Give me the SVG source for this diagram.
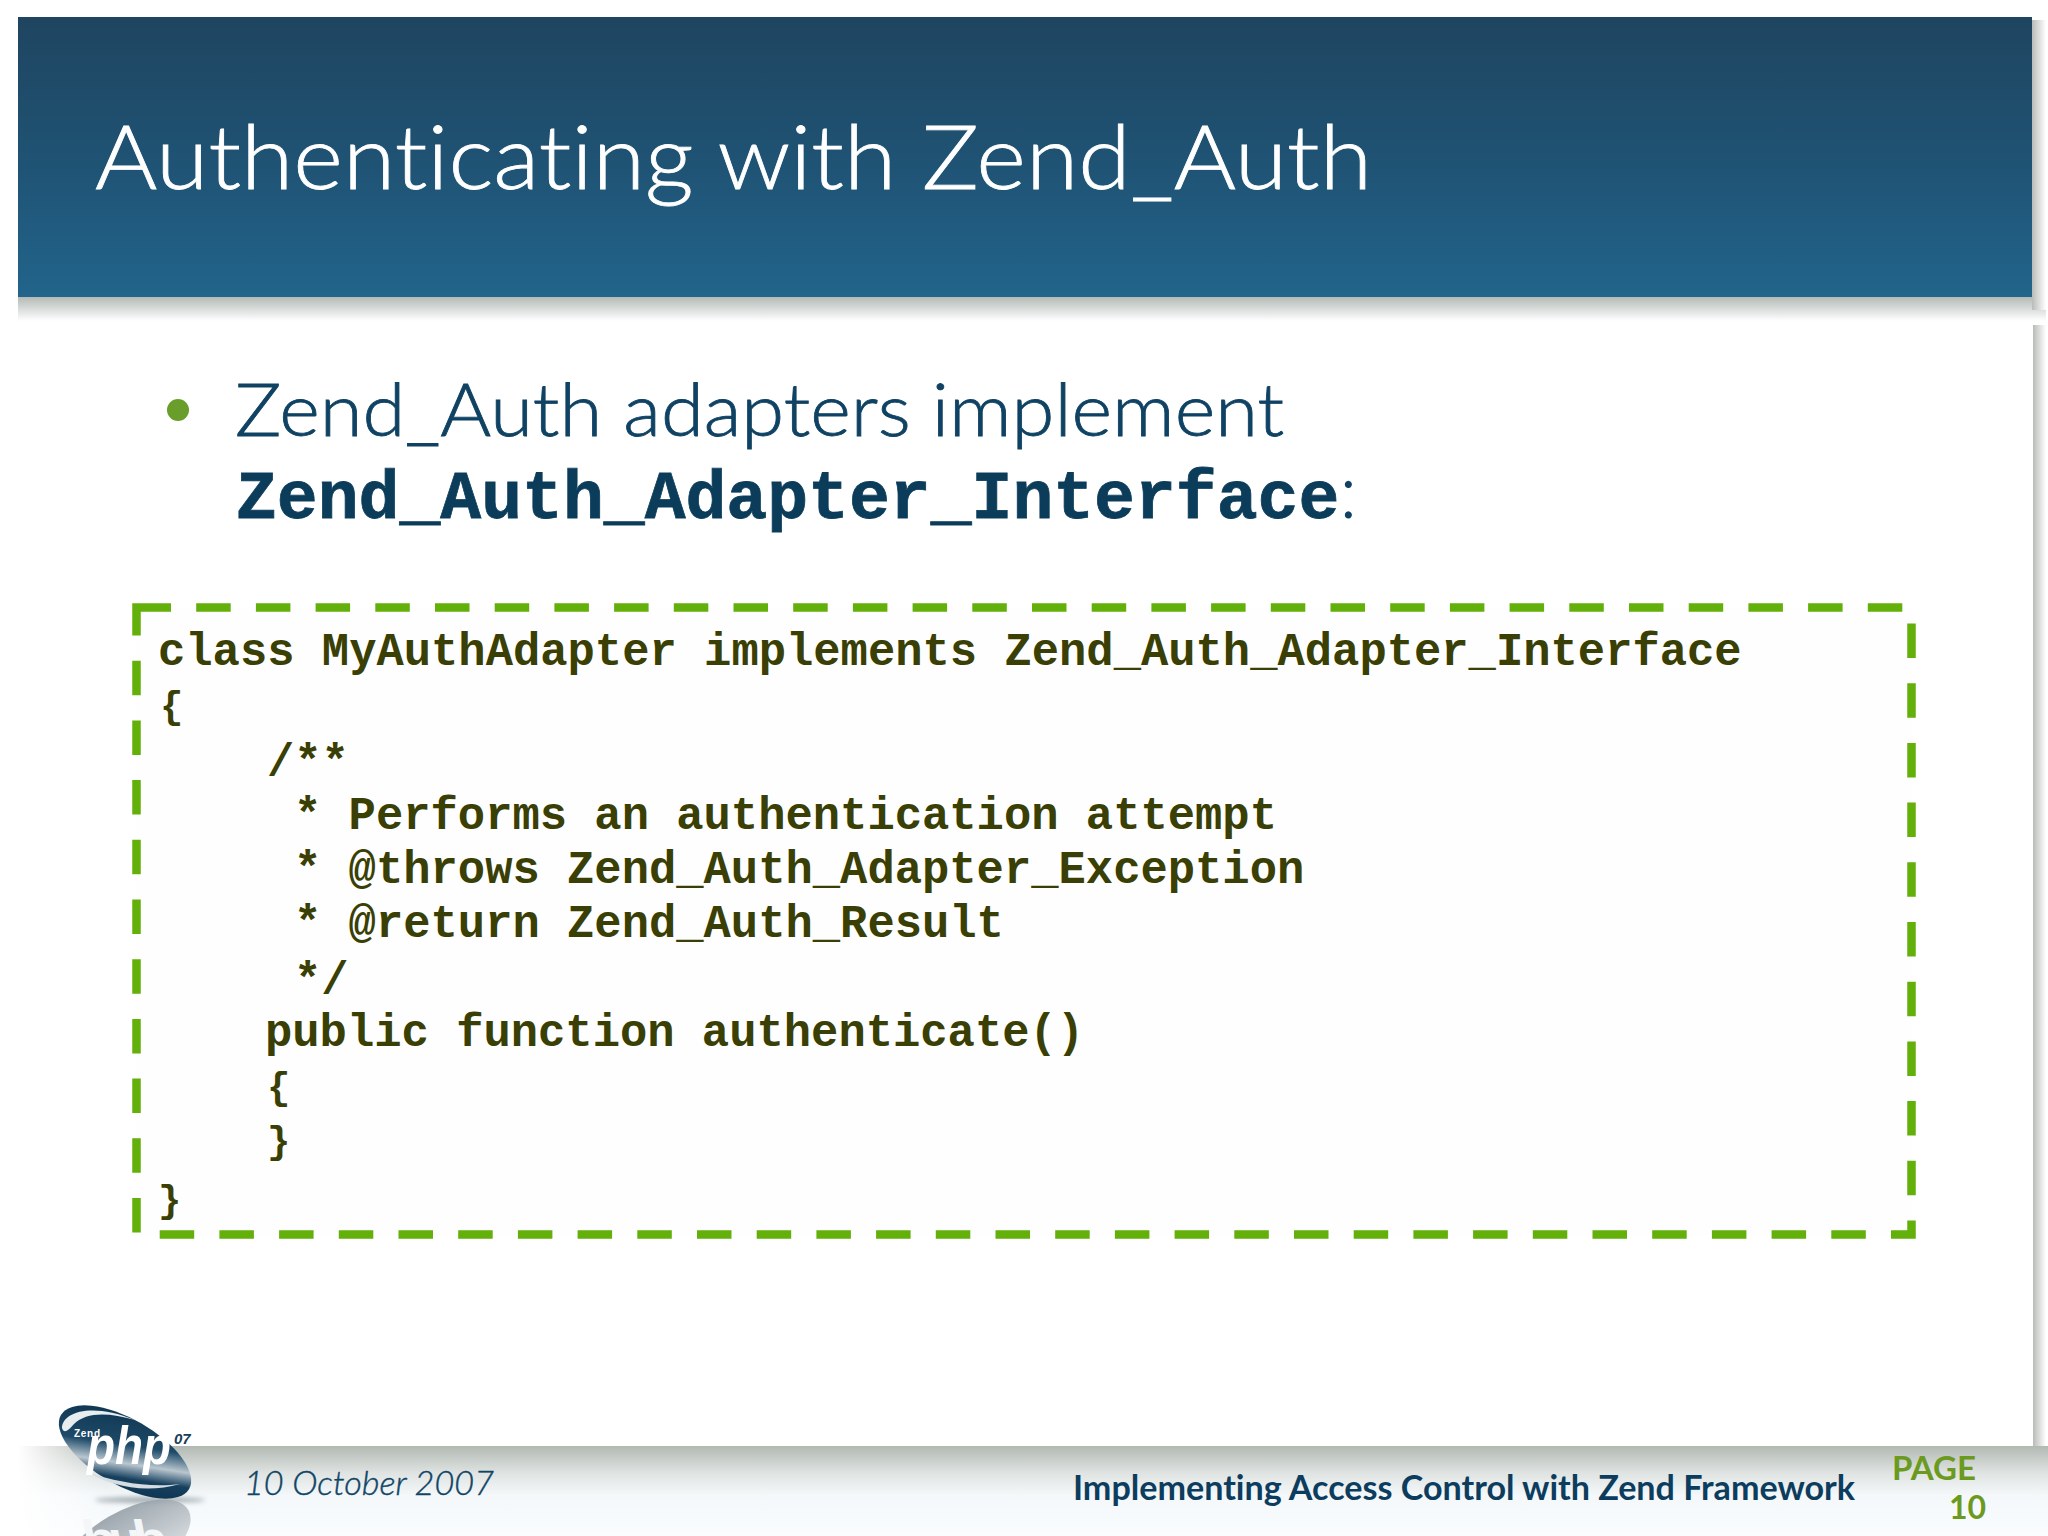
<svg xmlns="http://www.w3.org/2000/svg" width="2048" height="1536" viewBox="0 0 2048 1536">
<style>
text{font-variant-ligatures:none}
.code{font-family:"Liberation Mono","Courier New",monospace;font-weight:700;font-size:45.5px;fill:#3a3f05;white-space:pre}
.brace{font-size:39px}
.sans{font-family:Lato,"Open Sans","Liberation Sans",sans-serif}
</style>
<defs>
<linearGradient id="banner" x1="0" y1="0" x2="0" y2="1"><stop offset="0" stop-color="#1f4560"/><stop offset="0.5" stop-color="#1f5273"/><stop offset="1" stop-color="#22648b"/></linearGradient>
<linearGradient id="shadowDown" x1="0" y1="0" x2="0" y2="1"><stop offset="0" stop-color="#b4bab6"/><stop offset="1" stop-color="#ffffff"/></linearGradient>
<linearGradient id="shadowRight" x1="0" y1="0" x2="1" y2="0"><stop offset="0" stop-color="#b8bcb8"/><stop offset="1" stop-color="#ffffff"/></linearGradient>
<linearGradient id="foot" x1="0" y1="0" x2="0" y2="1"><stop offset="0" stop-color="#b2b8b2"/><stop offset="0.3" stop-color="#dfe4e2"/><stop offset="0.55" stop-color="#f4f8fa"/><stop offset="1" stop-color="#fafcfe"/></linearGradient>
<linearGradient id="footFade" x1="0" y1="0" x2="1" y2="0"><stop offset="0" stop-color="#fff"/><stop offset="1" stop-color="#fff" stop-opacity="0"/></linearGradient>
<linearGradient id="logo" x1="0.1" y1="0.1" x2="0.85" y2="0.95"><stop offset="0" stop-color="#0f3550"/><stop offset="0.42" stop-color="#1d4a68"/><stop offset="0.62" stop-color="#b9c6cf"/><stop offset="0.78" stop-color="#16405e"/><stop offset="1" stop-color="#0d3350"/></linearGradient>
<linearGradient id="refl" x1="0" y1="0" x2="0" y2="1"><stop offset="0" stop-color="#8f9aa2"/><stop offset="1" stop-color="#d8dde0"/></linearGradient>
<clipPath id="page"><rect x="0" y="1499" width="400" height="37"/></clipPath>
<filter id="soft" x="-20%" y="-200%" width="140%" height="500%"><feGaussianBlur stdDeviation="2.500"/></filter>
</defs>

<rect width="2048" height="1536" fill="#ffffff"/>

<g id="banner-group">
<rect x="18" y="297" width="2028" height="24" fill="url(#shadowDown)"/>
<rect x="2032" y="20" width="14" height="290" fill="url(#shadowRight)"/>
<rect x="18" y="17" width="2014" height="280" fill="url(#banner)"/>
<text class="sans" x="95" y="189" font-size="88" font-weight="300" fill="#ffffff" stroke="#ffffff" stroke-width="0.800" textLength="1277" lengthAdjust="spacingAndGlyphs">Authenticating with Zend_Auth</text>
</g>

<g id="slide-body">
<rect x="2033" y="325" width="13" height="1125" fill="url(#shadowRight)"/>
<circle cx="178" cy="410" r="11" fill="#6a9e2a"/>
<text class="sans" x="235" y="436" font-size="72" font-weight="300" fill="#0f4263" stroke="#0f4263" stroke-width="0.800" textLength="1049" lengthAdjust="spacingAndGlyphs">Zend_Auth adapters implement</text>
<text x="236" y="518" font-family="'Liberation Mono','Courier New',monospace" font-weight="700" font-size="68.100" fill="#0b3c5a" stroke="#0b3c5a" stroke-width="0.800">Zend_Auth_Adapter_Interface<tspan class="sans" font-weight="300" font-size="76" fill="#0f4263" stroke="none">:</tspan></text>
</g>

<g id="code-box">
<rect x="136.500" y="607.500" width="1775" height="627" fill="#fefefe" stroke="#63b00a" stroke-width="8.500" stroke-dasharray="34.500 25.200"/>
<text class="code" x="158" y="665">class MyAuthAdapter implements Zend_Auth_Adapter_Interface</text>
<text class="code brace" x="160" y="718">{</text>
<text class="code" x="267" y="776">/**</text>
<text class="code" x="294" y="829">* Performs an authentication attempt</text>
<text class="code" x="294" y="883">* @throws Zend_Auth_Adapter_Exception</text>
<text class="code" x="294" y="937">* @return Zend_Auth_Result</text>
<text class="code" x="294" y="994">*/</text>
<text class="code" x="265" y="1046">public function authenticate()</text>
<text class="code brace" x="267" y="1099">{</text>
<text class="code brace" x="267" y="1153">}</text>
<text class="code brace" x="158" y="1212">}</text>
</g>

<g id="footer">
<rect x="18" y="1446" width="2030" height="90" fill="url(#foot)"/>
<rect x="18" y="1446" width="90" height="90" fill="url(#footFade)"/>
<text class="sans" x="244" y="1495" font-size="34" font-style="italic" font-weight="300" fill="#114565" stroke="#114565" stroke-width="0.400" textLength="250" lengthAdjust="spacingAndGlyphs">10 October 2007</text>
<text class="sans" x="1073" y="1500" font-size="34" font-weight="700" fill="#0d3d5e" textLength="782" lengthAdjust="spacingAndGlyphs">Implementing Access Control with Zend Framework</text>
<text class="sans" x="1892" y="1480" font-size="32" font-weight="700" fill="#6b9a1f" textLength="84" lengthAdjust="spacingAndGlyphs">PAGE</text>
<text class="sans" x="1986" y="1519" font-size="32" font-weight="700" fill="#6b9a1f" text-anchor="end">10</text>
</g>

<g id="logo-group">
<ellipse cx="150" cy="1500" rx="55" ry="3" fill="#7d8a90" opacity="0.7" filter="url(#soft)"/>
<g clip-path="url(#page)">
<ellipse cx="126" cy="1546" rx="72" ry="34" transform="rotate(-30 126 1546)" fill="url(#refl)" opacity="0.85"/>
<text x="84" y="1530" font-family="'Liberation Sans',sans-serif" font-style="italic" font-weight="700" font-size="54" fill="#f4f6f7" transform="translate(0 3060) scale(1 -1)" textLength="84">php</text>
</g>
<ellipse cx="125" cy="1452" rx="74" ry="33" transform="rotate(30 125 1452)" fill="url(#logo)"/>
<path d="M62 1428C62 1412 92 1402 135 1420C108 1412 86 1412 74 1424C68 1431 64 1434 62 1428Z" fill="#e8edf0"/>
<path d="M88 1472C110 1486 145 1494 180 1484C150 1488 115 1482 88 1472Z" fill="#d5dde2"/>
<text x="74" y="1437" font-family="'Liberation Sans',sans-serif" font-weight="700" font-size="10" fill="#ffffff" textLength="26">Zend</text>
<text x="87" y="1464" font-family="'Liberation Sans',sans-serif" font-style="italic" font-weight="700" font-size="54" fill="#ffffff" textLength="84" lengthAdjust="spacingAndGlyphs">php</text>
<text x="174" y="1444" font-family="'Liberation Sans',sans-serif" font-style="italic" font-weight="700" font-size="15" fill="#1a3c55">07</text>
</g>
</svg>
